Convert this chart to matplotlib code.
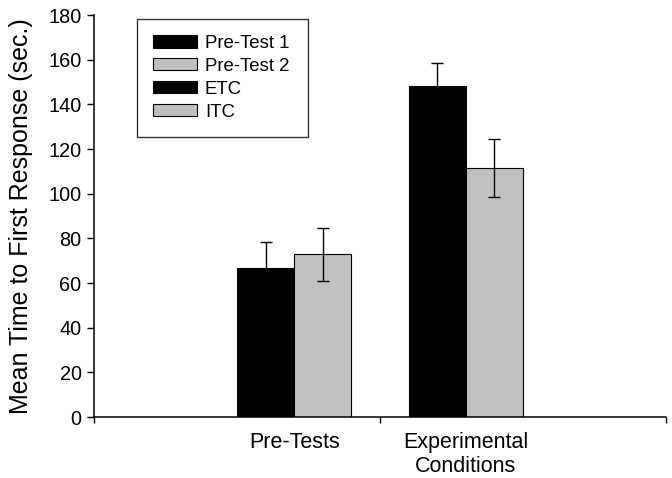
import numpy as np
import matplotlib.pyplot as plt

plt.rcParams['font.family'] = ['Liberation Sans', 'DejaVu Sans']

categories = ['Pre-Tests', 'Experimental\nConditions']
series = ['Pre-Test 1', 'Pre-Test 2', 'ETC', 'ITC']
means = [66.5, 72.8, 148.4, 111.4]
errors = [12.0, 12.0, 10.3, 13.0]
colors = ['black', '#c0c0c0', 'black', '#c0c0c0']
cat_of = [0, 0, 1, 1]     # which category each series sits in
slot_of = [2, 3, 0, 1]    # slot inside the category (4 slots, like excel)

fig = plt.figure(figsize=(6.72, 4.78), dpi=100)
ax = fig.add_axes([0.14, 0.1276, 0.851, 0.841])

bw = 0.2
handles = []
for i in range(len(series)):
    x = cat_of[i] + 0.1 + slot_of[i] * bw
    b = ax.bar(x, means[i], width=bw, align='edge', color=colors[i],
               edgecolor='black', linewidth=0.8, label=series[i], zorder=2)
    ax.errorbar(x + bw / 2, means[i], yerr=errors[i], fmt='none',
                ecolor='black', elinewidth=1.0, capsize=4.5, capthick=1.0, zorder=3)
    handles.append(b)

ax.set_xlim(0, len(categories))
ax.set_ylim(0, 180)
ax.set_yticks(np.arange(0, 181, 20))
ax.set_xticks([0, 1, 2])
ax.set_xticklabels(['', '', ''])
centers = [0.7, 1.3]
ax.set_xticks(centers, minor=True)
ax.set_xticklabels(categories, minor=True, fontsize=15.5, linespacing=1.15)
ax.tick_params(axis='x', which='minor', length=0, pad=11)
ax.tick_params(axis='x', which='major', direction='out', length=4, width=1)
ax.tick_params(axis='y', direction='out', length=5, width=1, pad=4, labelsize=14.3)

for s in ['top', 'right']:
    ax.spines[s].set_visible(False)
for s in ['left', 'bottom']:
    ax.spines[s].set_linewidth(1.1)

ax.set_ylabel('Mean Time to First Response (sec.)', fontsize=18)
ax.yaxis.set_label_coords(-0.107, 0.5)

leg = ax.legend(handles=handles, loc='upper left', bbox_to_anchor=(0.075, 0.99, 0.299, 0.0),
                mode='expand', borderaxespad=0, fontsize=13.4, frameon=True, fancybox=False,
                edgecolor='black', handlelength=2.4, handleheight=0.65, handletextpad=0.4,
                labelspacing=0.32, borderpad=0.85)
leg.get_frame().set_linewidth(1.0)

fig.savefig('out.png', dpi=100)
